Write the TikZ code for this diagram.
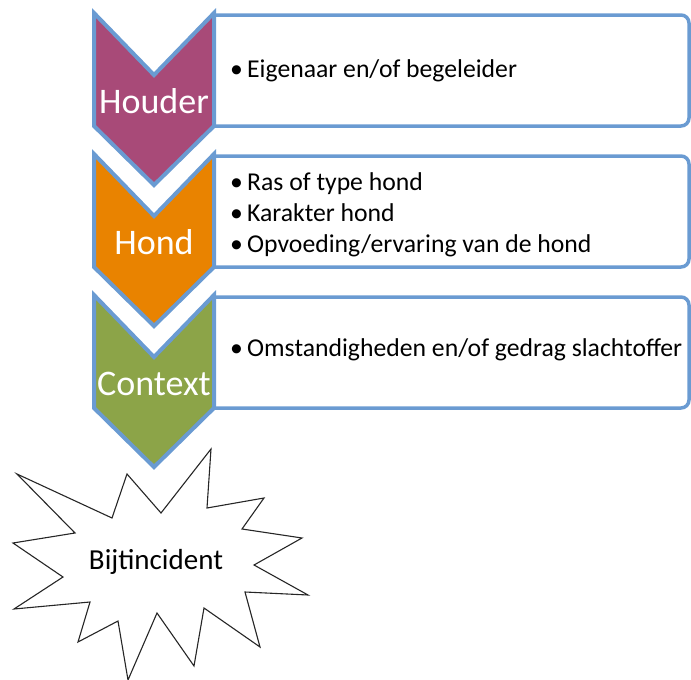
\documentclass[tikz,border=0pt]{standalone}
\usepackage{fontspec}
\setmainfont{Carlito}
\usetikzlibrary{positioning}

\definecolor{houdercol}{HTML}{A84A78}
\definecolor{hondcol}{HTML}{E98300}
\definecolor{contextcol}{HTML}{8CA448}
\definecolor{randblauw}{HTML}{6A9BD2}
\newcommand{\bol}{\makebox[17pt][l]{\textbullet}}

\begin{document}
\begin{tikzpicture}[x=1pt,y=-1pt,
	chev/.style={draw=randblauw,line width=4pt,line join=miter},
	kader/.style={draw=randblauw,line width=3.5pt,rounded corners=8pt},
	kop/.style={anchor=base,inner sep=0pt,text=white,font=\fontsize{36}{40}\selectfont},
	punt/.style={anchor=base west,inner sep=0pt,font=\fontsize{25.7}{31}\selectfont},
	ster/.style={draw=black!85,line width=1.1pt,line join=miter,fill=white}]
\useasboundingbox (0,0) rectangle (691,680);
\foreach \y/\kleur in {13/houdercol,154/hondcol,295/contextcol}
{
	\draw[kader] (214,\y+2) -- (689,\y+2) -- (689,\y+113) -- (214,\y+113);
	\filldraw[chev,fill=\kleur] (94,\y) -- (154,\y+62) -- (214,\y) -- (214,\y+113)
		-- (154,\y+172) -- (94,\y+113) -- cycle;
}
\node[kop] (houder) at (154,113) {Houder};
\node[kop] (hond) at (154,254) {Hond};
\node[kop] (context) at (154,395) {Context};

\node[punt] (eigenaar) at (230,77) {\bol Eigenaar en/of begeleider};
\node[punt] (ras) at (230,190) {\bol Ras of type hond};
\node[punt] (karakter) at (230,221) {\bol Karakter hond};
\node[punt] (opvoeding) at (230,252) {\bol Opvoeding/ervaring van de hond};
\node[punt] (omstandigheden) at (230,356) {\bol Omstandigheden en/of gedrag slachtoffer};

% explosie
\draw[ster] (17,474) -- (112,518) -- (127,474) -- (161,513) -- (211,449) -- (207,508)
	-- (264,498) -- (242,529) -- (302,538) -- (254,565) -- (308,595) -- (245,592)
	-- (260,647) -- (204,608) -- (194,666) -- (157,613) -- (128,680) -- (118,621)
	-- (78,642) -- (90,602) -- (14,609) -- (63,577) -- (13,543) -- (75,533) -- cycle;
\node[anchor=base,inner sep=0pt,font=\fontsize{29}{32}\selectfont] (bijt) at (156,569) {Bijtincident};
\end{tikzpicture}
\end{document}
